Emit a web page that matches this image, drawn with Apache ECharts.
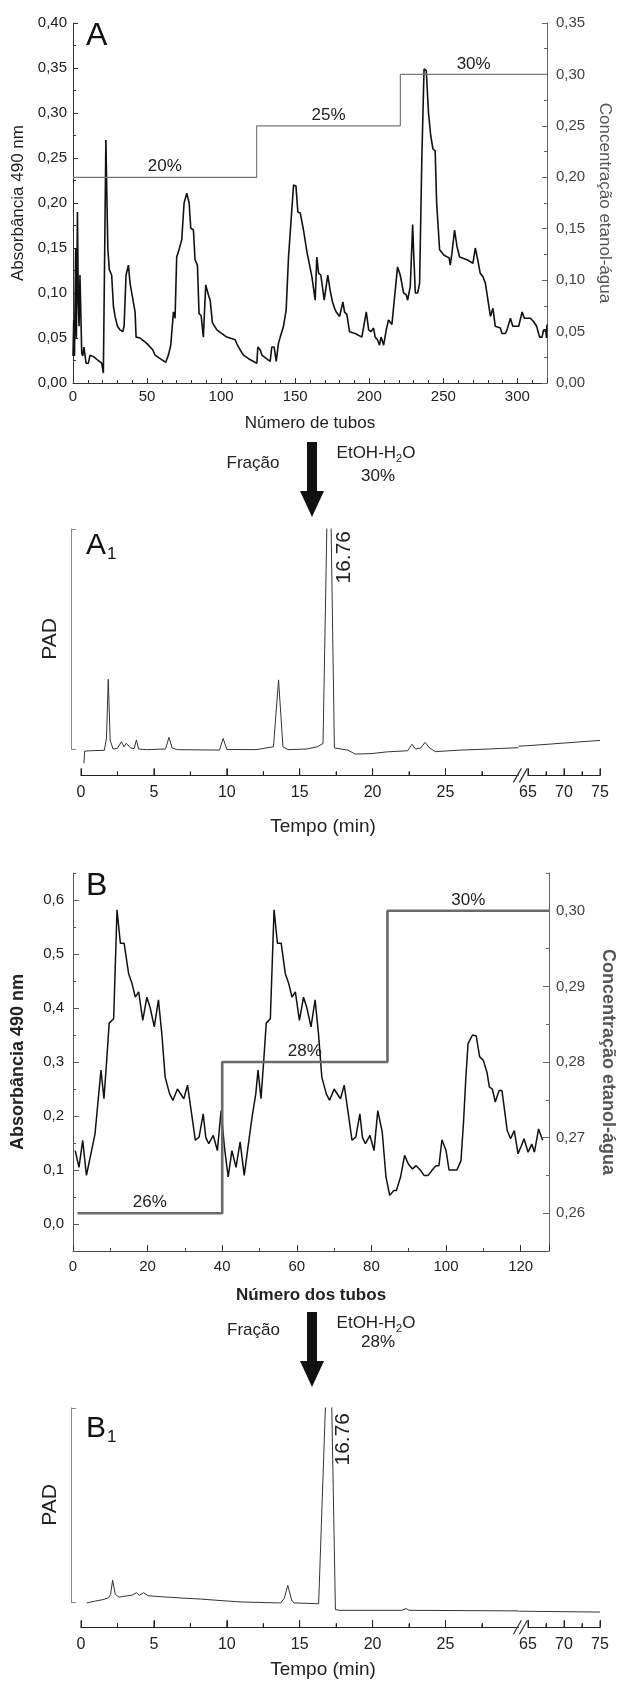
<!DOCTYPE html>
<html><head><meta charset="utf-8">
<script src="https://cdn.jsdelivr.net/npm/echarts@6/dist/echarts.min.js"></script>
<style>html,body{margin:0;padding:0;background:#fff;}#c{width:619px;height:1682px;}</style>
</head><body><div id="c"></div>
<script>
// ---------- DATA ----------
// Panel A: absorbance (490 nm) vs tube number
const traceA = [[0,0.03],[0.5,0.07],[1,0.03],[1.8,0.15],[2.3,0.05],[3,0.19],[3.6,0.09],[4.1,0.063],[4.7,0.12],[5.9,0.033],[6.6,0.03],[7.4,0.04],[8.8,0.022],[10.4,0.022],[11.5,0.031],[14,0.029],[17,0.025],[19.4,0.022],[20.5,0.011],[22.2,0.27],[23.5,0.15],[24.5,0.126],[26.1,0.12],[27.3,0.085],[28.4,0.074],[30,0.063],[31.8,0.059],[33.6,0.057],[34.5,0.063],[35.8,0.12],[37.4,0.131],[38.5,0.111],[40.1,0.096],[41.9,0.079],[42.6,0.051],[45.3,0.05],[49.8,0.044],[53.8,0.037],[55.4,0.031],[58.8,0.027],[62.6,0.023],[64.4,0.031],[66,0.042],[67.3,0.042],[67.8,0.079],[68.9,0.072],[70,0.14],[71.2,0.146],[72.3,0.148],[73.4,0.159],[75,0.2],[76.8,0.211],[78.4,0.2],[79.5,0.172],[81.3,0.17],[82.4,0.137],[84,0.131],[85.1,0.077],[86.5,0.075],[88,0.051],[89.6,0.109],[91.4,0.098],[92.6,0.092],[94.1,0.067],[97.1,0.059],[103.8,0.051],[109.5,0.048],[111,0.042],[112.8,0.037],[115.1,0.031],[118.5,0.027],[124.1,0.022],[124.8,0.04],[126.4,0.037],[127.5,0.031],[133.1,0.024],[134.2,0.04],[135.8,0.04],[137.2,0.024],[138.7,0.044],[139.9,0.051],[142.1,0.063],[143.9,0.081],[145.5,0.14],[147.1,0.178],[148.9,0.22],[150.5,0.219],[151.8,0.19],[153.4,0.189],[155.6,0.17],[157.9,0.146],[161.3,0.118],[163.5,0.092],[164.6,0.14],[165.8,0.122],[167.3,0.12],[169.6,0.092],[172,0.12],[173.6,0.103],[175.2,0.09],[176.6,0.083],[177.7,0.079],[180,0.074],[182.2,0.09],[183.3,0.079],[184.9,0.076],[186.7,0.057],[190.5,0.055],[195,0.051],[196.2,0.051],[198,0.079],[199.6,0.059],[201.1,0.057],[202.9,0.061],[204,0.051],[205.6,0.048],[206.9,0.042],[208,0.051],[209.7,0.042],[211.5,0.059],[213,0.07],[215.3,0.065],[216.4,0.063],[219.1,0.129],[220.9,0.12],[223.2,0.1],[225,0.098],[225.9,0.092],[227.7,0.107],[229.3,0.176],[230,0.144],[231.1,0.1],[232.7,0.1],[234,0.111],[235.5,0.25],[237,0.349],[238.5,0.347],[240,0.3],[241.5,0.275],[243,0.26],[244.5,0.258],[245.5,0.2],[247.5,0.148],[250.5,0.142],[253.9,0.139],[254.7,0.131],[255.8,0.144],[257.6,0.17],[259.2,0.152],[261,0.14],[266,0.137],[270,0.133],[271.6,0.15],[273.2,0.137],[274.9,0.122],[276.8,0.118],[278.4,0.111],[280.6,0.087],[281.8,0.074],[283.5,0.083],[285.1,0.063],[288.5,0.061],[289.6,0.055],[291.9,0.055],[293,0.059],[295.3,0.072],[296.9,0.063],[300.9,0.063],[303.2,0.079],[304.7,0.072],[308.8,0.072],[311,0.068],[313,0.063],[315,0.051],[316.6,0.051],[317.8,0.059],[319.2,0.059],[319.6,0.05],[320,0.065]];
// Panel A: ethanol-water gradient steps (tube where step starts, concentration)
const gradTubesA = [0, 124, 221, 320];
const gradConcA  = [0.20, 0.25, 0.30, 0.30];
const gradLabelsA = ['20%', '25%', '30%'];

// Panel A1: HPLC-PAD chromatogram (time in min, relative signal)
const traceA1 = [[0.2,-6.5],[0.25,-1],[0.6,-0.8],[1.6,-0.6],[1.75,5],[1.87,31.7],[2.0,4],[2.2,0],[2.5,0.3],[2.77,3.3],[2.95,1],[3.1,2.6],[3.4,0.5],[3.65,0.2],[3.8,4.1],[3.95,0],[4.5,-0.3],[5.8,0],[6.03,5.3],[6.25,0.5],[6.6,-0.3],[9.5,-0.5],[9.75,4.8],[10.0,-0.2],[12,-0.3],[13.2,1],[13.55,31.4],[13.85,1],[14.2,-0.3],[15.5,0],[16.2,1],[16.6,2.5],[17.02,160],[17.38,0.5],[17.8,0],[18.3,-0.5],[18.8,-2.3],[19.9,-2.1],[21,-1.3],[22.4,-0.8],[22.7,2.1],[22.95,0],[23.3,0.5],[23.6,3.0],[23.9,0.5],[24.3,-1.2],[26,-0.5],[28,0],[30,0.6],[63.7,1.3],[65,1.5],[70,2.7],[75,3.9]];

// Panel B: absorbance vs tube number
const traceB = [[0.6,0.136],[1.6,0.105],[2.6,0.155],[3.6,0.09],[4.8,0.13],[5.9,0.167],[6.9,0.241],[7.5,0.285],[8.3,0.232],[9.0,0.3],[9.7,0.372],[10.9,0.38],[11.8,0.582],[12.7,0.52],[13.7,0.52],[14.9,0.464],[15.8,0.446],[16.7,0.42],[17.6,0.43],[18.7,0.377],[19.8,0.42],[20.7,0.4],[21.8,0.365],[22.9,0.415],[23.8,0.353],[24.7,0.272],[25.9,0.241],[26.8,0.229],[28,0.25],[29.7,0.232],[30.7,0.257],[31.8,0.204],[32.8,0.155],[33.8,0.161],[34.9,0.204],[35.6,0.16],[36.4,0.149],[37.6,0.164],[38.7,0.136],[39.7,0.21],[40.6,0.142],[41.6,0.087],[42.6,0.136],[43.7,0.105],[44.8,0.152],[45.9,0.09],[46.9,0.142],[48,0.198],[49,0.241],[49.6,0.285],[50.4,0.232],[51.1,0.3],[51.8,0.372],[52.9,0.38],[53.9,0.582],[54.8,0.52],[55.8,0.52],[56.9,0.464],[57.8,0.446],[58.7,0.42],[59.6,0.43],[60.7,0.377],[61.8,0.42],[62.7,0.4],[63.8,0.365],[64.9,0.415],[65.8,0.353],[66.7,0.272],[67.9,0.241],[68.8,0.229],[70,0.25],[71.7,0.232],[72.7,0.257],[73.8,0.204],[74.8,0.155],[75.8,0.161],[76.9,0.204],[77.6,0.16],[78.4,0.149],[79.6,0.164],[80.7,0.136],[81.7,0.21],[82.9,0.17],[83.9,0.087],[84.9,0.053],[86,0.062],[86.7,0.062],[87.8,0.087],[88.9,0.127],[89.9,0.111],[91,0.102],[92,0.108],[93.1,0.1],[94.1,0.09],[95.2,0.09],[96.3,0.1],[97.3,0.108],[98.1,0.108],[98.9,0.156],[100,0.136],[100.8,0.1],[101.9,0.1],[102.9,0.1],[104,0.117],[104.7,0.19],[105.3,0.27],[105.9,0.334],[107.1,0.35],[108.1,0.348],[109,0.31],[110,0.303],[111,0.28],[111.6,0.254],[112.4,0.25],[113.2,0.226],[114.2,0.247],[115,0.247],[116.4,0.173],[117.3,0.158],[118.3,0.173],[119.3,0.13],[120.2,0.145],[120.9,0.158],[122,0.133],[123,0.148],[123.7,0.133],[124.8,0.176],[125.9,0.155]];
const gradTubesB = [1.2, 40, 84.3, 127.6];
const gradConcB  = [0.26, 0.28, 0.30, 0.30];
const gradLabelsB = ['26%', '28%', '30%'];

// Panel B1: HPLC-PAD chromatogram
const traceB1 = [[0.4,-0.5],[1,0.5],[1.5,1.2],[1.9,2.2],[2.03,4],[2.17,11.2],[2.35,4],[2.6,2.5],[3.0,3],[3.5,3.5],[3.8,4.8],[4.0,3.5],[4.3,4.8],[4.6,3.2],[5.5,2.7],[7,2],[8.2,1.5],[10,0.5],[11,0],[13.7,-0.5],[13.95,2],[14.18,8.6],[14.45,1],[14.6,-0.5],[16.3,-0.9],[16.4,-0.5],[17.05,163],[17.45,-3.9],[17.7,-4.3],[22,-4.3],[22.3,-3.4],[22.5,-4.3],[30,-4.6],[63.7,-4.75],[65,-4.8],[75,-5.2]];

// Tick labels
const timeTicksLeft = [0, 5, 10, 15, 20, 25];
const timeTicksRight = [65, 70, 75];
const timeBreak = [30, 65];            // axis break: left part ends at 30 min, right part starts at 65 min
const timeEnd = 75;
const absTicksB  = [0, 0.1, 0.2, 0.3, 0.4, 0.5, 0.6];
const concTicksB = [0.26, 0.27, 0.28, 0.29, 0.30];
const peakLabel = '16.76';

// ---------- CHART ----------
const FONT = '"Liberation Sans", Arial, Helvetica, sans-serif';
const chart = echarts.init(document.getElementById('c'), null, {renderer: 'canvas', width: 619, height: 1682});
const comma = (d) => (v) => v.toFixed(d).replace('.', ',');
const mc = document.createElement('canvas').getContext('2d');
function tw(t, size, weight) { mc.font = (weight || 'normal') + ' ' + size + 'px ' + FONT; return mc.measureText(t).width; }

const leftPart  = (arr) => arr.filter(p => p[0] <= timeBreak[0]);
const rightPart = (arr) => arr.filter(p => p[0] > timeBreak[0]);
const steps = (xs, ys) => xs.map((x, i) => [x, ys[i]]);
const stepLabels = (xs, ys, labs) => labs.map((l, i) => ({name: l, coord: [(xs[i] + xs[i + 1]) / 2, ys[i]]}));

const AX = '#333', TXT = '#222', GR = '#666', BR = '#8a8a8a';

function vAxis(o) {
  const base = {
    type: 'value', splitLine: {show: false}, minorSplitLine: {show: false},
    axisLine: {show: true, onZero: false, lineStyle: {color: AX, width: 1}},
    axisTick: {show: true, inside: true, length: 5, lineStyle: {color: AX}},
    axisLabel: {show: true, color: TXT, fontSize: 15, fontFamily: FONT},
    nameTextStyle: {fontFamily: FONT}
  };
  for (const k in o) {
    if (o[k] && typeof o[k] === 'object' && !Array.isArray(o[k]) && base[k] && typeof base[k] === 'object') base[k] = Object.assign({}, base[k], o[k]);
    else base[k] = o[k];
  }
  return base;
}
const hidden = (g, min, max) => ({type: 'value', gridIndex: g, min, max, show: false, splitLine: {show: false}});
const blankY = (g) => ({type: 'value', gridIndex: g, min: 0, max: 1, show: true,
  axisLine: {show: false}, axisTick: {show: false}, axisLabel: {show: false}, splitLine: {show: false}});

// ---------- LAYOUT (px) ----------
const X0 = 81, PX_MIN = 14.58, XR0 = 528, XR1 = 600;
const xBreak = X0 + PX_MIN * timeBreak[0];
const pxMinR = (XR1 - XR0) / (timeEnd - timeBreak[1]);
const rMin = timeBreak[1] - (XR0 - xBreak) / pxMinR;       // right data grid starts right at the break
const A1 = {top: 529, h: 246.4, brH: 220};
const B1 = {top: 1408, h: 219.2, brH: 194};
const gA = {left: 73, top: 23, width: 474, height: 360};
const gB = {left: 73, top: 873, width: 476, height: 378};
function chromGrids(P) {
  const axisY = P.top + P.h;
  return [
    {left: X0, top: P.top, width: xBreak - X0, height: P.h},        // data left
    {left: xBreak, top: P.top, width: XR1 - xBreak, height: P.h},   // data right
    {left: X0, top: axisY - 10, width: xBreak - X0, height: 10},    // axis strip left
    {left: XR0, top: axisY - 10, width: XR1 - XR0, height: 10},     // axis strip right
    {left: 71, top: P.top, width: 10, height: P.brH}                // bracket
  ];
}
const grids = [gA, gB, gB].concat(chromGrids(A1), chromGrids(B1))
  .map(g => Object.assign({outerBoundsMode: 'none', containLabel: false}, g));

function timeAxis(g, min, max, ticks) {
  return vAxis({gridIndex: g, min, max, interval: 5, name: ' ',
    axisLine: {show: true, onZero: false, lineStyle: {color: '#222', width: 1}},
    axisTick: {customValues: ticks, length: 7, lineStyle: {color: '#222', width: 1}},
    minorTick: {show: true, splitNumber: 2, length: 4, lineStyle: {color: '#222', width: 1}},
    axisLabel: {customValues: ticks, fontSize: 16, margin: 9}});
}
function bracketAxis(g) {
  return vAxis({gridIndex: g, min: 0, max: 100, interval: 100,
    axisLine: {lineStyle: {color: BR}}, axisTick: {length: 5, lineStyle: {color: BR}},
    axisLabel: {show: false},
    name: 'PAD', nameLocation: 'middle', nameGap: 10, nameTextStyle: {fontSize: 21, color: TXT, fontFamily: FONT}});
}
// grid indices: 0 A, 1 B, 2 B-minor, 3..7 A1 (dataL, dataR, axisL, axisR, bracket), 8..12 B1
const xAxis = [
  vAxis({gridIndex: 0, min: 0, max: 320, interval: 50,
    minorTick: {show: true, splitNumber: 5, length: 3, lineStyle: {color: AX}},
    axisLabel: {margin: 6, showMaxLabel: false},
    name: 'Número de tubos', nameLocation: 'middle', nameGap: 32, nameTextStyle: {fontSize: 17, color: TXT, fontFamily: FONT}}),
  vAxis({gridIndex: 1, min: 0, max: gradTubesB[3], interval: 20,
    axisLine: {lineStyle: {color: '#444'}},
    minorTick: {show: true, splitNumber: 2, length: 3, lineStyle: {color: '#444'}},
    axisTick: {length: 6},
    axisLabel: {margin: 8, showMaxLabel: false},
    name: 'Número dos tubos', nameLocation: 'middle', nameGap: 36, nameTextStyle: {fontSize: 17, fontWeight: 'bold', color: TXT, fontFamily: FONT}}),
  hidden(2, 0, 1),
  hidden(3, 0, timeBreak[0]), hidden(4, rMin, timeEnd),
  timeAxis(5, 0, timeBreak[0], timeTicksLeft), timeAxis(6, timeBreak[1], timeEnd, timeTicksRight), hidden(7, 0, 1),
  hidden(8, 0, timeBreak[0]), hidden(9, rMin, timeEnd),
  timeAxis(10, 0, timeBreak[0], timeTicksLeft), timeAxis(11, timeBreak[1], timeEnd, timeTicksRight), hidden(12, 0, 1)
];
const yAxis = [
  vAxis({gridIndex: 0, min: 0, max: 0.4, interval: 0.05, position: 'left',
    minorTick: {show: true, splitNumber: 2, length: 3, lineStyle: {color: AX}},
    axisLabel: {formatter: comma(2), margin: 6},
    name: 'Absorbância 490 nm', nameLocation: 'middle', nameGap: 45, nameTextStyle: {fontSize: 17, color: TXT, fontFamily: FONT}}),
  vAxis({gridIndex: 0, min: 0, max: 0.35, interval: 0.05, position: 'right',
    axisLine: {lineStyle: {color: GR}}, axisTick: {lineStyle: {color: GR}},
    minorTick: {show: true, splitNumber: 2, length: 3, lineStyle: {color: GR}},
    axisLabel: {formatter: comma(2), margin: 9, color: '#444'},
    name: 'Concentração etanol-água', nameLocation: 'middle', nameRotate: -90, nameGap: 48, nameTextStyle: {fontSize: 17, color: '#555', fontFamily: FONT}}),
  vAxis({gridIndex: 1, min: -0.05, max: 0.65, interval: 0.05, position: 'left',
    axisLine: {lineStyle: {color: '#555'}},
    axisTick: {customValues: absTicksB, length: 6, lineStyle: {color: '#555'}},
    axisLabel: {customValues: absTicksB, formatter: comma(1), margin: 9},
    name: 'Absorbância 490 nm', nameLocation: 'middle', nameGap: 46, nameTextStyle: {fontSize: 18, fontWeight: 'bold', color: TXT, fontFamily: FONT}}),
  vAxis({gridIndex: 1, min: 0.255, max: 0.305, interval: 0.005, position: 'right',
    axisLine: {lineStyle: {color: GR}},
    axisTick: {customValues: concTicksB, length: 6, lineStyle: {color: GR}},
    axisLabel: {customValues: concTicksB, formatter: comma(2), margin: 7, color: '#444'},
    name: 'Concentração etanol-água', nameLocation: 'middle', nameRotate: -90, nameGap: 50, nameTextStyle: {fontSize: 18, fontWeight: 'bold', color: '#555', fontFamily: FONT}}),
  vAxis({gridIndex: 2, min: -0.05, max: 0.65, interval: 0.05, position: 'left',
    axisLine: {show: false}, axisTick: {length: 3, lineStyle: {color: '#555'}}, axisLabel: {show: false}}),
  vAxis({gridIndex: 2, min: 0.255, max: 0.305, interval: 0.005, position: 'right',
    axisLine: {show: false}, axisTick: {length: 3, lineStyle: {color: GR}}, axisLabel: {show: false}}),
  hidden(3, -12, 100), hidden(4, -12, 100), blankY(5), blankY(6), bracketAxis(7),
  hidden(8, -13, 100), hidden(9, -13, 100), blankY(10), blankY(11), bracketAxis(12)
];

const lineS = (xi, yi, data, color, width, extra) => Object.assign({
  type: 'line', xAxisIndex: xi, yAxisIndex: yi, data, symbol: 'none', showSymbol: false,
  silent: true, animation: false, clip: true, lineStyle: {color, width}
}, extra || {});
const mp = (xs, ys, labs) => ({
  symbol: 'circle', symbolSize: 0, silent: true, animation: false,
  label: {show: true, position: 'top', distance: 2, formatter: '{b}', color: TXT, fontSize: 17, fontFamily: FONT},
  data: stepLabels(xs, ys, labs)
});

const series = [
  lineS(0, 0, traceA, '#111', 1.6),
  lineS(0, 1, steps(gradTubesA, gradConcA), '#777', 1.2, {step: 'end', markPoint: mp(gradTubesA, gradConcA, gradLabelsA)}),
  lineS(1, 2, traceB, '#111', 1.5),
  lineS(1, 3, steps(gradTubesB, gradConcB), '#6a6a6a', 2.6, {step: 'end', markPoint: mp(gradTubesB, gradConcB, gradLabelsB)}),
  lineS(3, 6, leftPart(traceA1), '#333', 1),
  lineS(4, 7, rightPart(traceA1), '#333', 1),
  lineS(8, 11, leftPart(traceB1), '#333', 1),
  lineS(9, 12, rightPart(traceB1), '#333', 1)
];

// ---------- ANNOTATIONS ----------
function txt(x, y, text, size, opts) {
  return {type: 'text', x, y, silent: true, style: Object.assign({text, fontSize: size, fontFamily: FONT, fill: '#111', align: 'left', verticalAlign: 'middle'}, opts || {})};
}
function subLabel(x, y, main, sub, size, subSize, drop) {
  return [txt(x, y, main, size), txt(x + tw(main, size) + 1, y + drop, sub, subSize)];
}
function chem(cx, cy) {
  const a = 'EtOH-H', b = '2', c = 'O', s = 17, ss = 11;
  const w1 = tw(a, s), w2 = tw(b, ss), w3 = tw(c, s);
  const x0 = cx - (w1 + w2 + w3) / 2;
  return [txt(x0, cy, a, s, {fill: TXT}), txt(x0 + w1, cy + 6, b, ss, {fill: TXT}), txt(x0 + w1 + w2, cy, c, s, {fill: TXT})];
}
function arrow(yTop) {
  return [
    {type: 'rect', silent: true, shape: {x: 307, y: yTop, width: 10, height: 50}, style: {fill: '#111'}},
    {type: 'polygon', silent: true, shape: {points: [[300, yTop + 49], [324, yTop + 49], [312, yTop + 75]]}, style: {fill: '#111'}}
  ];
}
function breakMark(yAxisLine) {
  return [
    {type: 'line', silent: true, z: 10, shape: {x1: xBreak - 5, y1: yAxisLine + 7, x2: xBreak + 3, y2: yAxisLine - 7}, style: {stroke: '#333', lineWidth: 1.2}},
    {type: 'line', silent: true, z: 10, shape: {x1: xBreak + 1, y1: yAxisLine + 7, x2: xBreak + 9, y2: yAxisLine - 7}, style: {stroke: '#333', lineWidth: 1.2}}
  ];
}
const rotLabel = (x, y) => ({type: 'text', x, y, rotation: Math.PI / 2, silent: true,
  style: {text: peakLabel, fontSize: 21, fontFamily: FONT, fill: TXT, align: 'right', verticalAlign: 'middle'}});

const graphic = [].concat(
  [txt(86, 36.5, 'A', 32)],
  subLabel(86, 545.5, 'A', '1', 30, 17, 9),
  [txt(86, 886, 'B', 32)],
  subLabel(86, 1429, 'B', '1', 30, 17, 8),
  arrow(442), arrow(1312),
  [txt(253, 463, 'Fração', 17, {align: 'center', fill: TXT}), txt(253.5, 1330, 'Fração', 17, {align: 'center', fill: TXT})],
  chem(376, 453), chem(376, 1323),
  [txt(378, 476, '30%', 17, {align: 'center', fill: TXT}), txt(378, 1342.5, '28%', 17, {align: 'center', fill: TXT})],
  [rotLabel(344, 531), rotLabel(343, 1413)],
  [txt(323, 827, 'Tempo (min)', 19, {align: 'center', fill: TXT}), txt(323, 1670, 'Tempo (min)', 19, {align: 'center', fill: TXT})],
  breakMark(A1.top + A1.h), breakMark(B1.top + B1.h)
);

chart.setOption({
  animation: false,
  backgroundColor: '#fff',
  textStyle: {fontFamily: FONT},
  grid: grids,
  xAxis, yAxis, series, graphic
});

// Time-axis line and ticks, placed through the axes' own scales (guarantees they are drawn)
function axisDecor(xi, yPix, min, max, majors) {
  const px = (v) => chart.convertToPixel({xAxisIndex: xi}, v);
  const els = [{type: 'line', silent: true, z: 9, shape: {x1: px(min), y1: yPix, x2: px(max), y2: yPix}, style: {stroke: '#222', lineWidth: 1}}];
  majors.forEach(v => els.push({type: 'line', silent: true, z: 9, shape: {x1: px(v), y1: yPix, x2: px(v), y2: yPix - 7}, style: {stroke: '#222', lineWidth: 1}}));
  majors.map(v => v + 2.5).filter(v => v < max).forEach(v => els.push({type: 'line', silent: true, z: 9, shape: {x1: px(v), y1: yPix, x2: px(v), y2: yPix - 4}, style: {stroke: '#222', lineWidth: 1}}));
  return els;
}
const yA1 = Math.round(A1.top + A1.h) + 0.5, yB1 = Math.round(B1.top + B1.h) + 0.5;
const decor = [].concat(
  axisDecor(5, yA1, 0, timeBreak[0], timeTicksLeft), axisDecor(6, yA1, timeBreak[1], timeEnd, timeTicksRight),
  axisDecor(10, yB1, 0, timeBreak[0], timeTicksLeft), axisDecor(11, yB1, timeBreak[1], timeEnd, timeTicksRight)
);
chart.setOption({graphic: graphic.concat(decor)});
</script></body></html>
